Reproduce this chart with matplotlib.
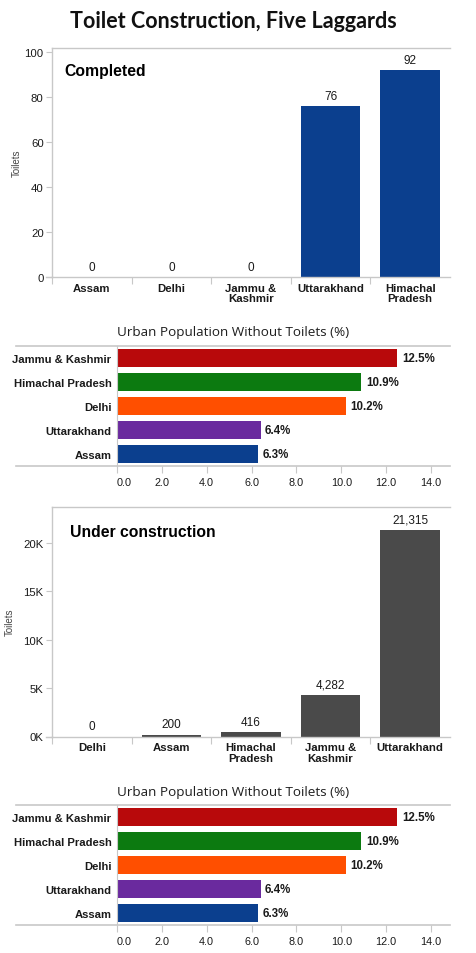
import matplotlib
matplotlib.use("Agg")
import matplotlib.pyplot as plt
from matplotlib.ticker import FuncFormatter, FixedLocator

# ---- data ----
title = "Toilet Construction, Five Laggards"
completed_states = ["Assam", "Delhi", "Jammu &\nKashmir", "Uttarakhand", "Himachal\nPradesh"]
completed_values = [0, 0, 0, 76, 92]

under_states = ["Delhi", "Assam", "Himachal\nPradesh", "Jammu &\nKashmir", "Uttarakhand"]
under_values = [0, 200, 416, 4282, 21315]

urban_states = ["Jammu & Kashmir", "Himachal Pradesh", "Delhi", "Uttarakhand", "Assam"]
urban_values = [12.5, 10.9, 10.2, 6.4, 6.3]
urban_colors = ["#B8090B", "#0C7A10", "#FF4F00", "#6A2A9E", "#0B3F8E"]
urban_title = "Urban Population Without Toilets (%)"
urban_ticks = [0, 2, 4, 6, 8, 10, 12, 14]

completed_ticks = [0, 20, 40, 60, 80, 100]
under_ticks = [0, 5000, 10000, 15000, 20000]

plt.rcParams['font.family'] = ['Liberation Sans', 'DejaVu Sans']

W, H = 476, 954
fig = plt.figure(figsize=(W / 100, H / 100), dpi=100)
fig.patch.set_facecolor("white")

GRID = "#c8c8c8"
TXT = "#1a1a1a"


def px_axes(left, top, right, bottom):
    return fig.add_axes([left / W, 1 - bottom / H, (right - left) / W, (bottom - top) / H])


fig.text(233 / W, 1 - 22 / H, title, ha="center", va="center",
         fontsize=15.5, fontweight="bold", family=["Lato", "DejaVu Sans"], color="#111111")


def vbar(ax, cats, vals, color, ticks, ylim, fmt, label_fmt, panel_title, tx, ty, ylab_x):
    x = list(range(len(cats)))
    bars = ax.bar(x, vals, width=0.75, color=color, zorder=2)
    ax.set_xlim(-0.5, len(cats) - 0.5)
    ax.set_ylim(*ylim)
    ax.set_xticks(x)
    ax.set_xticklabels(cats, fontsize=8.2, fontweight="bold", color=TXT, linespacing=1.1)
    ax.tick_params(axis="x", length=0, pad=4)
    ax.xaxis.set_minor_locator(FixedLocator([i - 0.5 for i in range(len(cats))]))
    ax.tick_params(axis="x", which="minor", length=5, color=GRID, width=0.8)
    ax.set_yticks(ticks)
    ax.yaxis.set_major_formatter(FuncFormatter(fmt))
    ax.tick_params(axis="y", length=4, color=GRID, width=0.8, labelsize=8.2, labelcolor=TXT, pad=2)
    ax.spines["right"].set_visible(False)
    for s in ["left", "top", "bottom"]:
        ax.spines[s].set_color(GRID)
        ax.spines[s].set_linewidth(1.0)
    ax.plot([-0.014, 0], [0, 0], transform=ax.transAxes, color=GRID, lw=1.0, clip_on=False)
    ax.set_ylabel("Toilets", fontsize=7, color="#444444")
    ax.yaxis.set_label_coords(ylab_x, 0.5)
    for b, v in zip(bars, vals):
        ax.annotate(label_fmt(v), (b.get_x() + b.get_width() / 2, v),
                    xytext=(0, 3), textcoords="offset points",
                    ha="center", va="bottom", fontsize=8.5, color=TXT)
    ax.text(tx, ty, panel_title, transform=ax.transAxes, fontsize=11.3,
            fontweight="bold", color="#000000", ha="left", va="center")


def hbar(ax, title_y):
    y = list(range(len(urban_states)))[::-1]
    ax.barh(y, urban_values, height=0.75, color=urban_colors, zorder=2)
    ax.set_ylim(-0.5, len(urban_states) - 0.5)
    ax.set_xlim(0, 14.85)
    ax.set_yticks(y)
    ax.set_yticklabels(urban_states, fontsize=8.1, fontweight="bold", color=TXT)
    ax.tick_params(axis="y", length=0, pad=4)
    ax.set_xticks(urban_ticks)
    ax.xaxis.set_major_formatter(FuncFormatter(lambda v, p: f"{v:.1f}"))
    ax.tick_params(axis="x", length=5, color=GRID, width=0.8, labelsize=7.8, labelcolor=TXT, pad=3)
    labs = ax.get_xticklabels()
    labs[0].set_horizontalalignment("left")
    for s in ["right", "top", "bottom"]:
        ax.spines[s].set_visible(False)
    ax.spines["left"].set_color(GRID)
    for yy in (0, 1):
        ax.plot([-0.303, 1], [yy, yy], transform=ax.transAxes, color=GRID,
                lw=1.2, clip_on=False, zorder=3)
    for yi, v in zip(y, urban_values):
        ax.text(v + 0.2, yi, f"{v:.1f}%", va="center", ha="left",
                fontsize=8.3, fontweight="bold", color=TXT)
    ax.text(0.0, title_y, urban_title, transform=ax.transAxes, ha="left",
            va="center", fontsize=9.7, color="#1e1e1e",
            family=["Open Sans", "DejaVu Sans"])


ax1 = px_axes(52, 49, 450, 278)
vbar(ax1, completed_states, completed_values, "#0B3F8E", completed_ticks, (0, 102),
     lambda v, p: f"{v:.0f}", lambda v: f"{v:,}", "Completed", 0.03, 0.9, -0.075)

ax2 = px_axes(117, 347, 450, 467)
hbar(ax2, 1.12)

ax3 = px_axes(52, 508, 450, 737.5)
vbar(ax3, under_states, under_values, "#4A4A4A", under_ticks, (0, 23700),
     lambda v, p: f"{v/1000:.0f}K", lambda v: f"{v:,}", "Under construction", 0.045, 0.895, -0.093)

ax4 = px_axes(117, 806, 450, 926)
hbar(ax4, 1.11)

fig.savefig("out.png", dpi=100, facecolor="white")
